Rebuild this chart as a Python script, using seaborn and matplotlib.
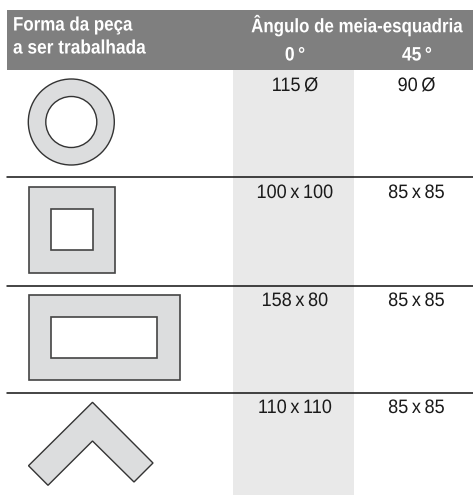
import seaborn as sb
from matplotlib import pyplot as plt
from matplotlib.patches import Circle, Polygon, Rectangle
from matplotlib.patheffects import AbstractPathEffect
from matplotlib.transforms import Affine2D

header_left = ["Forma da peça", "a ser trabalhada"]
header_top = "Ângulo de meia-esquadria"
angles = ["0\u2009°", "45\u2009°"]
values_0 = ["115\u2009Ø", "100\u2009x\u2009100", "158\u2009x\u200980", "110\u2009x\u2009110"]
values_45 = ["90\u2009Ø", "85\u2009x\u200985", "85\u2009x\u200985", "85\u2009x\u200985"]

row_rules = [177, 285.5, 392.5]
row_text_y = [86.5, 193.5, 301.5, 408.5]

square_outer = [(28.5, 186.5), (115, 186.5), (115, 272.7), (28.5, 272.7)]
square_inner = [(51, 209), (92.5, 209), (92.5, 250), (51, 250)]
rect_outer = [(28.5, 294.7), (179.5, 294.7), (179.5, 380), (28.5, 380)]
rect_inner = [(51, 316.7), (156.5, 316.7), (156.5, 357.7), (51, 357.7)]
chevron = [(28.5, 465.7), (92.5, 402.3), (153, 463), (134, 482), (92.5, 441), (48, 485.3)]


class Squeeze(AbstractPathEffect):
    # no narrow font installed, so squeeze the glyphs around x (pixels)
    def __init__(self, x, sx):
        super().__init__()
        self.x = x
        self.sx = sx

    def draw_path(self, renderer, gc, tpath, affine, rgbFace=None):
        squeeze = Affine2D().translate(-self.x, 0).scale(self.sx, 1).translate(self.x, 0)
        renderer.draw_path(gc, tpath, affine + squeeze, rgbFace)


def put_text(ax, x, y, s, sx, **kw):
    t = ax.text(x, y, s, va="center", **kw)
    t.set_path_effects([Squeeze(x, sx)])


sb.set_theme(style="white")
plt.rcParams["font.family"] = ["Liberation Sans", "DejaVu Sans"]

fig, ax = plt.subplots(figsize=(4.73, 4.95), dpi=100)
fig.subplots_adjust(0, 0, 1, 1)
ax.set_xlim(0, 473)
ax.set_ylim(495, 0)
ax.axis("off")

shape_fill = "#dcddde"
edge = "#333333"

ax.add_patch(Rectangle((7, 10), 466, 60, color="#7f7f7f", lw=0))
ax.add_patch(Rectangle((233, 70), 121, 425, color="#e9e9e9", lw=0))

for y in row_rules:
    sb.lineplot(x=[7, 473], y=[y, y], ax=ax, color="#111111", linewidth=1.1, legend=False)

ax.add_patch(Circle((71.3, 122), 43, fc=shape_fill, ec=edge, lw=1))
ax.add_patch(Circle((71.3, 122), 25.5, fc="white", ec=edge, lw=1))
for outer, inner in [(square_outer, square_inner), (rect_outer, rect_inner)]:
    ax.add_patch(Polygon(outer, fc=shape_fill, ec="#444444", lw=1.2))
    ax.add_patch(Polygon(inner, fc="white", ec="#444444", lw=1.2))
ax.add_patch(Polygon(chevron, fc=shape_fill, ec=edge, lw=1))

head = dict(color="white", weight="bold", fontsize=14)
put_text(ax, 13, 26, header_left[0], 0.87, **head)
put_text(ax, 13, 49, header_left[1], 0.89, **head)
put_text(ax, 463, 26, header_top, 0.87, ha="right", **head)
put_text(ax, 295, 56, angles[0], 0.9, ha="center", **head)
put_text(ax, 417, 56, angles[1], 0.9, ha="center", **head)

body = dict(color="#1a1a1a", fontsize=14)
for y, a, b in zip(row_text_y, values_0, values_45):
    put_text(ax, 295, y, a, 0.93, ha="center", **body)
    put_text(ax, 416.5, y, b, 0.93, ha="center", **body)

fig.savefig("out.png", dpi=100)
